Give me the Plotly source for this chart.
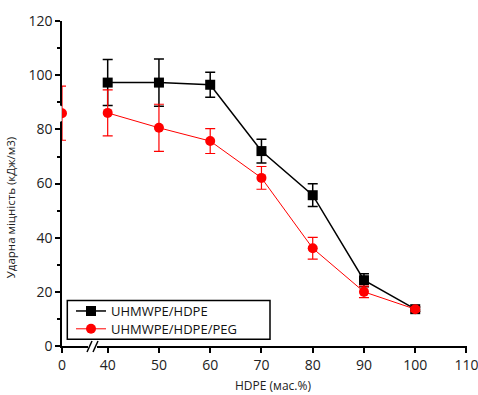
import plotly.graph_objects as go

# Data
x_main = [40, 50, 60, 70, 80, 90, 100]
hdpe_vals = [97.3, 97.3, 96.5, 72.0, 55.7, 24.3, 13.6]
hdpe_err = [8.5, 8.7, 4.6, 4.4, 4.2, 2.4, 0.8]
peg_vals = [86.1, 80.6, 75.7, 62.1, 36.1, 20.0, 13.6]
peg_err = [8.5, 8.7, 4.6, 4.2, 4.0, 2.1, 0.8]
x_zero = [0]
peg_zero_val = [86.0]
peg_zero_err = [10.0]

x_ticks_main = [40, 50, 60, 70, 80, 90, 100, 110]
y_ticks = [0, 20, 40, 60, 80, 100, 120]

FONT = "Open Sans"
BLACK = "#000000"
RED = "#ff0000"
TXT = "#222222"

fig = go.Figure()

fig.add_trace(go.Scatter(
    x=x_main, y=hdpe_vals, xaxis="x2", yaxis="y",
    mode="lines+markers", name="UHMWPE/HDPE", legend="legend",
    line=dict(color=BLACK, width=1.5),
    marker=dict(symbol="square", size=10, color=BLACK),
    error_y=dict(type="data", array=hdpe_err, color=BLACK, thickness=1.5, width=5),
))
fig.add_trace(go.Scatter(
    x=x_main, y=peg_vals, xaxis="x2", yaxis="y",
    mode="lines+markers", name="UHMWPE/HDPE/PEG", legend="legend2",
    line=dict(color=RED, width=1),
    marker=dict(symbol="circle", size=10, color=RED),
    error_y=dict(type="data", array=peg_err, color=RED, thickness=1.2, width=5),
))
fig.add_trace(go.Scatter(
    x=x_zero, y=peg_zero_val, xaxis="x", yaxis="y",
    mode="markers", showlegend=False,
    marker=dict(symbol="circle", size=10, color=RED),
    error_y=dict(type="data", array=peg_zero_err, color=RED, thickness=1.2, width=4),
))

L, R, T, B = 62, 11, 18, 49
W, H = 478, 395
pw = W - L - R
ph = H - T - B

def px(xp):
    return (xp - L) / pw

def py(yp):
    return (H - B - yp) / ph

d1 = px(88)
d2 = px(97)
x2_lo = 40 - (107.7 - 97) / (359.1 / 70)

tickfont = dict(family=FONT, size=14, color=TXT)
axis_common = dict(
    showline=True, linecolor=BLACK, linewidth=1.5,
    ticks="outside", ticklen=5, tickcolor=BLACK, tickwidth=1.5,
    showgrid=False, zeroline=False, tickfont=tickfont,
    ticklabeloverflow="allow",
)

legend_common = dict(
    xanchor="left", yanchor="middle",
    borderwidth=0, bgcolor="rgba(0,0,0,0)",
    font=dict(family=FONT, size=13, color="#111111"),
    itemwidth=30,
)

fig.update_layout(
    width=W, height=H,
    margin=dict(l=L, r=R, t=T, b=B),
    paper_bgcolor="white", plot_bgcolor="white",
    font=dict(family=FONT, color=TXT),
    showlegend=True,
    xaxis=dict(domain=[0, d1], range=[0, 5], anchor="y",
               tickvals=[0], ticktext=["0"], **axis_common),
    xaxis2=dict(domain=[d2, 1], range=[x2_lo, 110.1], anchor="y",
                tickvals=x_ticks_main, ticktext=[str(v) for v in x_ticks_main],
                automargin=False, **axis_common),
    yaxis=dict(range=[0, 120.05], tickvals=y_ticks,
               minor=dict(dtick=10, ticks="outside", ticklen=3, tickcolor=BLACK, tickwidth=1.5),
               **axis_common),
    legend=dict(x=px(71), y=py(310.7), **legend_common),
    legend2=dict(x=px(71), y=py(328.7), **legend_common),
    annotations=[
        dict(text="HDPE (мас.%)", xref="paper", yref="paper",
             x=px(273), y=py(386), xanchor="center", yanchor="middle",
             showarrow=False, font=dict(family=FONT, size=12, color=TXT)),
        dict(text="Ударна міцність (кДж/м3)", xref="paper", yref="paper",
             x=px(10), y=py(206), xanchor="center", yanchor="middle", textangle=-90,
             showarrow=False, font=dict(family=FONT, size=11.5, color=TXT)),
    ],
    shapes=[
        # legend frame
        dict(type="rect", xref="paper", yref="paper", layer="above",
             x0=px(67.3), y0=py(339.3), x1=px(270), y1=py(300),
             line=dict(color=BLACK, width=1.5), fillcolor="white"),
        # hide the left half of the marker at x=0 (clipped by the axis)
        dict(type="rect", xref="paper", yref="paper", layer="above",
             x0=px(54), y0=py(119), x1=px(61.2), y1=py(104),
             line=dict(color="white", width=1), fillcolor="white"),
        # axis break marks
        dict(type="line", xref="paper", yref="paper",
             x0=px(87), y0=py(352), x1=px(92), y1=py(341),
             line=dict(color=BLACK, width=1.5)),
        dict(type="line", xref="paper", yref="paper",
             x0=px(93), y0=py(352), x1=px(98), y1=py(341),
             line=dict(color=BLACK, width=1.5)),
    ],
)

fig.write_html("out.html")
